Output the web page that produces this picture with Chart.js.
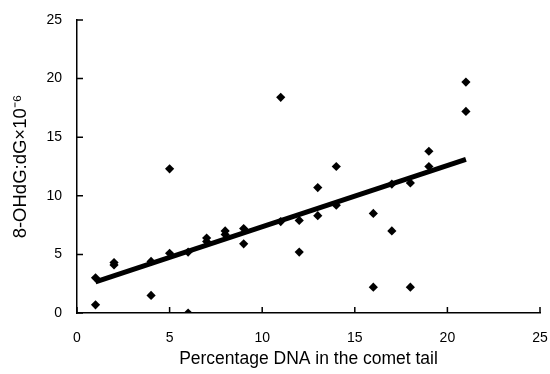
<!DOCTYPE html>
<html>
<head>
<meta charset="utf-8">
<script src="https://cdn.jsdelivr.net/npm/chart.js@4"></script>
<style>
  html, body { margin: 0; padding: 0; background: #fff; }
  #wrap { width: 550px; height: 374px; }
</style>
</head>
<body>
<div id="wrap"><canvas id="chart" width="550" height="374"></canvas></div>
<script>
// Data
const cometTail = [1, 1, 2, 2, 4, 4, 5, 5, 6, 6, 7, 7, 8, 8, 9, 9, 11, 11, 12, 12, 13, 13, 14, 14, 16, 16, 17, 17, 18, 18, 19, 19, 21, 21];
const ohdg = [3.0, 0.7, 4.1, 4.3, 4.4, 1.5, 12.3, 5.1, 5.2, 0, 6.4, 6.1, 7.0, 6.7, 7.2, 5.9, 18.4, 7.8, 7.9, 5.2, 10.7, 8.3, 12.5, 9.2, 8.5, 2.2, 11.0, 7.0, 11.1, 2.2, 13.8, 12.5, 19.7, 17.2];
// regression line end points
const fitX = [1, 21];
const fitY = [2.65, 13.1];
const xTicks = [0, 5, 10, 15, 20, 25];
const yTicks = [0, 5, 10, 15, 20, 25];

const font = 'Liberation Sans, Arial, sans-serif';

// small tick marks drawn inward, like the original
const innerTicks = {
  id: 'innerTicks',
  afterDraw(chart) {
    const c = chart.ctx;
    const xs = chart.scales.x, ys = chart.scales.y;
    c.save();
    c.strokeStyle = '#000';
    c.lineWidth = 1.5;
    c.beginPath();
    xTicks.forEach(v => {
      const px = xs.getPixelForValue(v);
      c.moveTo(px, ys.bottom);
      c.lineTo(px, ys.bottom - 6);
    });
    yTicks.forEach(v => {
      const py = ys.getPixelForValue(v);
      c.moveTo(xs.left, py);
      c.lineTo(xs.left + 6, py);
    });
    c.stroke();
    c.restore();
  }
};

const ctx = document.getElementById('chart').getContext('2d');
const chart = new Chart(ctx, {
  type: 'scatter',
  data: {
    datasets: [
      {
        label: 'points',
        data: cometTail.map((x, i) => ({ x: x, y: ohdg[i] })),
        pointStyle: 'rectRot',
        pointRadius: 4.6,
        backgroundColor: '#000',
        borderColor: '#000',
        borderWidth: 0
      },
      {
        type: 'line',
        label: 'fit',
        data: fitX.map((x, i) => ({ x: x, y: fitY[i] })),
        borderColor: '#000',
        borderWidth: 5,
        pointRadius: 0,
        fill: false
      }
    ]
  },
  options: {
    responsive: false,
    animation: false,
    layout: { padding: { top: 20, right: 10, left: 0, bottom: 0 } },
    plugins: {
      legend: { display: false },
      tooltip: { enabled: false }
    },
    scales: {
      x: {
        type: 'linear',
        min: 0, max: 25,
        afterBuildTicks: s => { s.ticks = xTicks.map(v => ({ value: v })); },
        afterFit: s => { s.height = 61; s.paddingLeft = 0; s.paddingRight = 0; },
        grid: { display: false, drawTicks: false },
        border: { display: true, color: '#000', width: 1.5 },
        ticks: { color: '#000', font: { family: font, size: 14 }, padding: 17 },
        title: { display: true, text: 'Percentage DNA in the comet tail', color: '#000',
                 font: { family: font, size: 17.5 }, padding: { top: 4 } }
      },
      y: {
        type: 'linear',
        min: 0, max: 25,
        afterBuildTicks: s => { s.ticks = yTicks.map(v => ({ value: v })); },
        afterFit: s => { s.width = 77; s.paddingTop = 0; s.paddingBottom = 0; },
        grid: { display: false, drawTicks: false },
        border: { display: true, color: '#000', width: 1.5 },
        ticks: { color: '#000', font: { family: font, size: 14 }, padding: 15 },
        title: { display: true, text: '8-OHdG:dG×10⁻⁶', color: '#000',
                 font: { family: font, size: 18.5 }, padding: { top: 10, bottom: 0 } }
      }
    }
  },
  plugins: [innerTicks]
});
</script>
</body>
</html>
